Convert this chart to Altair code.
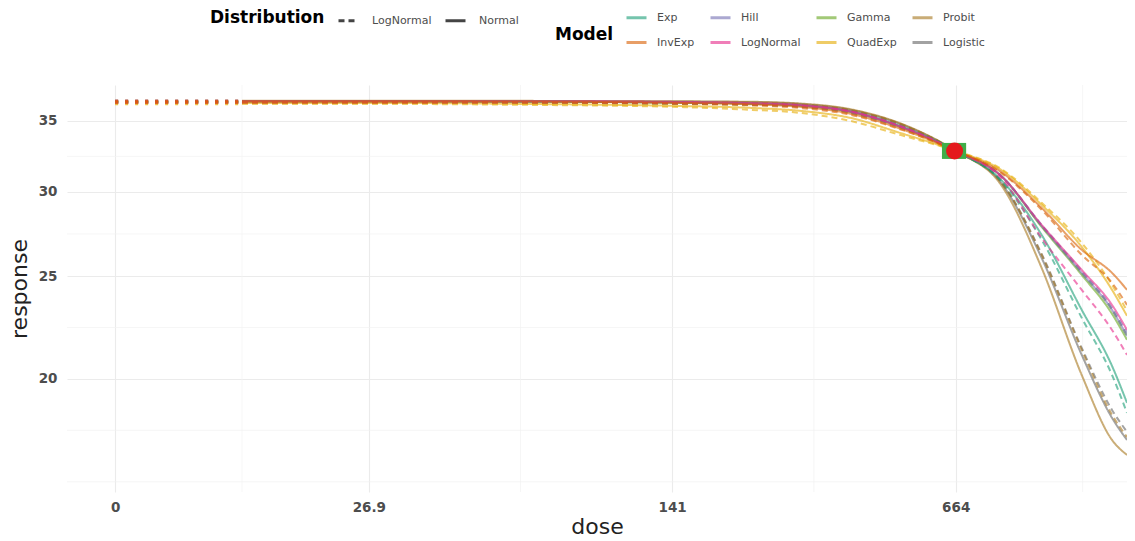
import altair as alt
import pandas as pd

# ---------------- data ----------------
model_names = ["Exp", "InvExp", "Hill", "LogNormal", "Gamma", "QuadExp", "Probit", "Logistic"]
model_colors = ["#1b9e77", "#d95f02", "#7570b3", "#e7298a", "#66a61e", "#e6ab02", "#a6761d", "#666666"]
# order in which the curves are painted (last one on top)
draw_order = ["Logistic", "Probit", "Exp", "Gamma", "Hill", "QuadExp", "LogNormal", "InvExp"]
dist_names = ["LogNormal", "Normal"]

zero_pos = 6.725            # position where dose 0 is drawn on the log axis
doses = [13.45, 26.9, 61.5, 141, 216, 284, 373, 490, 664, 851, 1062, 1322, 1560, 1693]

exp_normal = [36.49, 36.49, 36.48, 36.42, 36.34, 36.19, 35.73, 34.62, 32.79, 30.80, 27.33, 23.23, 20.57, 18.99]
exp_lognormal = [36.40, 36.40, 36.39, 36.33, 36.25, 36.10, 35.66, 34.58, 32.79, 30.73, 27.04, 22.83, 20.17, 18.58]
invexp_normal = [36.52, 36.52, 36.50, 36.40, 36.28, 36.08, 35.55, 34.42, 32.79, 31.33, 28.98, 26.46, 25.17, 24.26]
invexp_lognormal = [36.43, 36.43, 36.41, 36.31, 36.19, 35.99, 35.47, 34.37, 32.79, 31.27, 28.86, 26.17, 24.63, 23.48]
hill_normal = [36.50, 36.50, 36.50, 36.43, 36.34, 36.18, 35.70, 34.56, 32.79, 31.06, 27.87, 25.17, 23.23, 21.95]
hill_lognormal = [36.42, 36.42, 36.42, 36.35, 36.26, 36.10, 35.63, 34.52, 32.79, 31.06, 27.93, 25.28, 23.33, 22.10]
lognormal_normal = [36.53, 36.53, 36.53, 36.47, 36.38, 36.22, 35.73, 34.58, 32.79, 31.06, 27.93, 25.33, 23.48, 22.24]
lognormal_lognormal = [36.42, 36.42, 36.42, 36.37, 36.30, 36.16, 35.72, 34.62, 32.79, 30.93, 27.15, 24.26, 22.24, 21.07]
gamma_normal = [36.48, 36.48, 36.48, 36.41, 36.32, 36.17, 35.69, 34.55, 32.79, 31.06, 27.81, 25.06, 23.03, 21.77]
gamma_lognormal = [36.41, 36.41, 36.41, 36.34, 36.25, 36.10, 35.63, 34.51, 32.79, 31.06, 27.87, 25.17, 23.23, 21.95]
quadexp_normal = [36.39, 36.39, 36.31, 36.16, 36.00, 35.77, 35.23, 34.10, 32.79, 31.47, 29.17, 26.63, 24.26, 22.93]
quadexp_lognormal = [36.31, 36.31, 36.24, 36.08, 35.85, 35.61, 35.00, 33.95, 32.79, 31.54, 29.30, 26.86, 24.52, 23.18]
probit_normal = [36.55, 36.55, 36.55, 36.52, 36.48, 36.34, 35.90, 34.82, 32.79, 30.46, 25.44, 20.17, 17.52, 16.96]
probit_lognormal = [36.47, 36.47, 36.47, 36.44, 36.40, 36.26, 35.84, 34.78, 32.79, 30.66, 26.17, 21.30, 18.50, 17.63]
logistic_normal = [36.54, 36.54, 36.54, 36.50, 36.45, 36.30, 35.85, 34.77, 32.79, 30.60, 26.00, 21.07, 18.38, 17.52]
logistic_lognormal = [36.46, 36.46, 36.46, 36.42, 36.37, 36.23, 35.80, 34.74, 32.79, 30.66, 26.23, 21.39, 18.70, 17.83]

curves = {
    ("Exp", "Normal"): exp_normal, ("Exp", "LogNormal"): exp_lognormal,
    ("InvExp", "Normal"): invexp_normal, ("InvExp", "LogNormal"): invexp_lognormal,
    ("Hill", "Normal"): hill_normal, ("Hill", "LogNormal"): hill_lognormal,
    ("LogNormal", "Normal"): lognormal_normal, ("LogNormal", "LogNormal"): lognormal_lognormal,
    ("Gamma", "Normal"): gamma_normal, ("Gamma", "LogNormal"): gamma_lognormal,
    ("QuadExp", "Normal"): quadexp_normal, ("QuadExp", "LogNormal"): quadexp_lognormal,
    ("Probit", "Normal"): probit_normal, ("Probit", "LogNormal"): probit_lognormal,
    ("Logistic", "Normal"): logistic_normal, ("Logistic", "LogNormal"): logistic_lognormal,
}

bmd = 660
bmd_response = 32.79
bmdl, bmdu = 616, 703

x_tick_values = [zero_pos, 26.9, 141, 664]
x_tick_labels = ["0", "26.9", "141", "664"]
x_minor = [13.45, 61.6, 306, 1328]
y_tick_values = [20, 25, 30, 35]
y_minor = [16, 17.89, 22.36, 27.39, 32.40]
x_domain = [5.17, 1693]
y_domain = [15.65, 37.83]

# ---------------- tables ----------------
rows, ext_rows = [], []
for m in draw_order:
    for d in dist_names:
        vals = curves[(m, d)]
        cid = f"{m}-{d}"
        for dose, v in zip(doses, vals):
            rows.append({"dose": dose, "response": v, "Model": m, "Distribution": d, "curve": cid})
        ext_rows.append({"dose": zero_pos, "response": vals[0], "Model": m, "curve": cid})
        ext_rows.append({"dose": doses[0], "response": vals[0], "Model": m, "curve": cid})
df = pd.DataFrame(rows)
ext = pd.DataFrame(ext_rows)

FONT = "DejaVu Sans"
label_expr = "".join(
    f"abs(datum.value - {v}) < {v * 0.01} ? '{l}' : " for v, l in zip(x_tick_values, x_tick_labels)
) + "''"

xscale = alt.Scale(type="log", domain=x_domain, nice=False)
yscale = alt.Scale(type="log", domain=y_domain, nice=False)
xaxis = alt.Axis(values=x_tick_values, labelExpr=label_expr, grid=True, gridColor="#ebebeb",
                 gridWidth=1.1, domain=False, ticks=False, labelFont=FONT, labelFontSize=13.5,
                 labelFontWeight="bold", labelColor="#4d4d4d", labelPadding=8, titleFont=FONT,
                 titleFontSize=22, titleFontWeight="normal", titleColor="#222222", titlePadding=3,
                 labelFlush=False)
yaxis = alt.Axis(values=y_tick_values, format="d", grid=True, gridColor="#ebebeb", gridWidth=1.1,
                 domain=False, ticks=False, labelFont=FONT, labelFontSize=13.5, labelFontWeight="bold",
                 labelColor="#4d4d4d", labelPadding=10, titleFont=FONT, titleFontSize=22,
                 titleFontWeight="normal", titleColor="#222222", titlePadding=7)


def X(field):
    return alt.X(field, type="quantitative", scale=xscale, axis=xaxis, title="dose")


def Y(field):
    return alt.Y(field, type="quantitative", scale=yscale, axis=yaxis, title="response")


color_scale = alt.Scale(domain=model_names, range=model_colors)
model_legend = alt.Legend(orient="none", legendX=488, legendY=-79, columns=4,
                          title="Model", titleOrient="left", titleAnchor="middle",
                          titleBaseline="top", titleFont=FONT, titleFontSize=17,
                          titleFontWeight="bold", titleColor="#000000", titlePadding=11,
                          labelFont=FONT, labelFontSize=11, labelColor="#4d4d4d",
                          labelOffset=9, symbolType="stroke", symbolSize=400,
                          symbolStrokeWidth=3, symbolOpacity=0.6, columnPadding=9,
                          rowPadding=7)
color_enc = alt.Color("Model:N", scale=color_scale, legend=model_legend)

minor_x = alt.Chart(pd.DataFrame({"v": x_minor})).mark_rule(color="#f2f2f2", strokeWidth=0.7).encode(x=X("v"))
minor_y = alt.Chart(pd.DataFrame({"v": y_minor})).mark_rule(color="#f2f2f2", strokeWidth=0.7).encode(y=Y("v"))

dotted = alt.Chart(ext).mark_line(strokeDash=[3, 7], strokeWidth=2.6, opacity=0.7).encode(
    x=X("dose"), y=Y("response"), color=color_enc, detail="curve:N",
)

lines = alt.Chart(df).mark_line(strokeWidth=2, opacity=0.6, interpolate="monotone").encode(
    x=X("dose"), y=Y("response"),
    color=color_enc,
    strokeDash=alt.StrokeDash("Distribution:N",
                              scale=alt.Scale(domain=dist_names, range=[[6, 4], [1, 0]]),
                              legend=alt.Legend(orient="none", legendX=143, legendY=-76,
                                                direction="horizontal", title="Distribution",
                                                titleOrient="left", titleAnchor="middle",
                                                titleBaseline="middle", titleFont=FONT,
                                                titleFontSize=17, titleFontWeight="bold",
                                                titleColor="#000000", titlePadding=12,
                                                labelFont=FONT, labelFontSize=11,
                                                labelColor="#4d4d4d", labelOffset=12,
                                                symbolType="stroke", symbolSize=400,
                                                symbolStrokeWidth=3, symbolStrokeColor="#444444",
                                                symbolOpacity=1, columnPadding=7)),
    detail="curve:N",
)

bmd_df = pd.DataFrame({"bmd": [bmd], "lo": [bmdl], "hi": [bmdu], "r": [bmd_response]})
interval = alt.Chart(bmd_df).mark_rule(color="#3fae49", strokeWidth=16, strokeCap="butt").encode(
    x=X("lo"), x2="hi", y=Y("r"))
point = alt.Chart(bmd_df).mark_point(shape="circle", filled=True, size=290, color="#e41a1c",
                                     opacity=1).encode(x=X("bmd"), y=Y("r"))

chart = alt.layer(minor_x, minor_y, dotted, lines, interval, point).properties(
    width=1060, height=407,
    autosize=alt.AutoSizeParams(type="none"),
    padding={"left": 59, "top": 77, "right": 0, "bottom": 48},
    background="white",
).configure_view(stroke=None)

chart.save("out.html", embed_options={"renderer": "svg", "actions": False})
